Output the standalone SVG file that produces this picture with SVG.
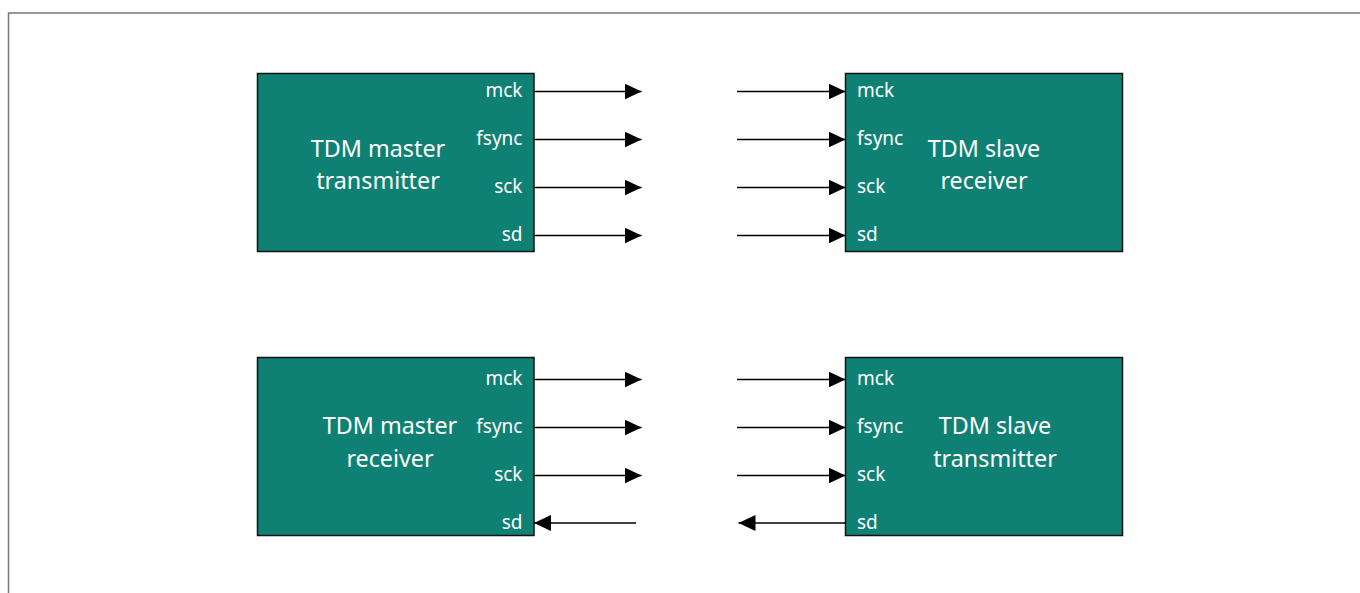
<svg xmlns="http://www.w3.org/2000/svg" width="1360" height="593" viewBox="0 0 1360 593">
  <style>
    .block { fill: #0e8174; stroke: #111; stroke-width: 1.5; }
    .title { font-family: "Noto Sans", "Open Sans", sans-serif; font-size: 23.3px; fill: #ffffff; text-anchor: middle; }
    .pin { font-family: "Noto Sans", "Open Sans", sans-serif; font-size: 19px; fill: #ffffff; }
    .pin-r { text-anchor: end; }
    .wire { stroke: #000; stroke-width: 1.5; fill: none; marker-end: url(#head); }
  </style>
  <defs>
    <marker id="head" markerUnits="userSpaceOnUse" markerWidth="17" markerHeight="16" refX="17" refY="8" orient="auto">
      <path d="M0,0 L17,8 L0,16 Z" fill="#000"/>
    </marker>
  </defs>

  <rect width="1360" height="593" fill="#ffffff"/>
  <!-- page frame -->
  <path d="M8.5,593 V13 H1360" fill="none" stroke="#777" stroke-width="1.5"/>

  <!-- master transmitter -->
  <g id="master-transmitter">
    <rect class="block" x="257.5" y="73.5" width="276.5" height="178"/>
    <text class="title" x="378" y="156.5">TDM master</text>
    <text class="title" x="378" y="188.5">transmitter</text>
    <text class="pin pin-r" x="522.5" y="97">mck</text>
    <text class="pin pin-r" x="522.5" y="145">fsync</text>
    <text class="pin pin-r" x="522.5" y="193">sck</text>
    <text class="pin pin-r" x="522.5" y="241">sd</text>
  </g>

  <!-- slave receiver -->
  <g id="slave-receiver">
    <rect class="block" x="845.5" y="73.5" width="277" height="178"/>
    <text class="title" x="984" y="156.5">TDM slave</text>
    <text class="title" x="984" y="188.5">receiver</text>
    <text class="pin" x="857" y="97">mck</text>
    <text class="pin" x="857" y="145">fsync</text>
    <text class="pin" x="857" y="193">sck</text>
    <text class="pin" x="857" y="241">sd</text>
  </g>

  <!-- master receiver -->
  <g id="master-receiver">
    <rect class="block" x="257.5" y="357.5" width="276.5" height="178"/>
    <text class="title" x="390" y="434">TDM master</text>
    <text class="title" x="390" y="466.5">receiver</text>
    <text class="pin pin-r" x="522.5" y="385">mck</text>
    <text class="pin pin-r" x="522.5" y="433">fsync</text>
    <text class="pin pin-r" x="522.5" y="481">sck</text>
    <text class="pin pin-r" x="522.5" y="528.5">sd</text>
  </g>

  <!-- slave transmitter -->
  <g id="slave-transmitter">
    <rect class="block" x="845.5" y="357.5" width="277" height="178"/>
    <text class="title" x="995" y="434">TDM slave</text>
    <text class="title" x="995" y="466.5">transmitter</text>
    <text class="pin" x="857" y="385">mck</text>
    <text class="pin" x="857" y="433">fsync</text>
    <text class="pin" x="857" y="481">sck</text>
    <text class="pin" x="857" y="528.5">sd</text>
  </g>

  <!-- signal lines -->
  <g id="connectors">
    <line class="wire" x1="534" y1="91.5" x2="641.5" y2="91.5"/>
    <line class="wire" x1="534" y1="139.5" x2="641.5" y2="139.5"/>
    <line class="wire" x1="534" y1="187.5" x2="641.5" y2="187.5"/>
    <line class="wire" x1="534" y1="235.5" x2="641.5" y2="235.5"/>

    <line class="wire" x1="737" y1="91.5" x2="845.5" y2="91.5"/>
    <line class="wire" x1="737" y1="139.5" x2="845.5" y2="139.5"/>
    <line class="wire" x1="737" y1="187.5" x2="845.5" y2="187.5"/>
    <line class="wire" x1="737" y1="235.5" x2="845.5" y2="235.5"/>

    <line class="wire" x1="534" y1="379.5" x2="641.5" y2="379.5"/>
    <line class="wire" x1="534" y1="427.5" x2="641.5" y2="427.5"/>
    <line class="wire" x1="534" y1="475.5" x2="641.5" y2="475.5"/>
    <line class="wire" x1="636" y1="523" x2="534" y2="523"/>

    <line class="wire" x1="737" y1="379.5" x2="845.5" y2="379.5"/>
    <line class="wire" x1="737" y1="427.5" x2="845.5" y2="427.5"/>
    <line class="wire" x1="737" y1="475.5" x2="845.5" y2="475.5"/>
    <line class="wire" x1="845.5" y1="523" x2="738.5" y2="523"/>
  </g>
</svg>
